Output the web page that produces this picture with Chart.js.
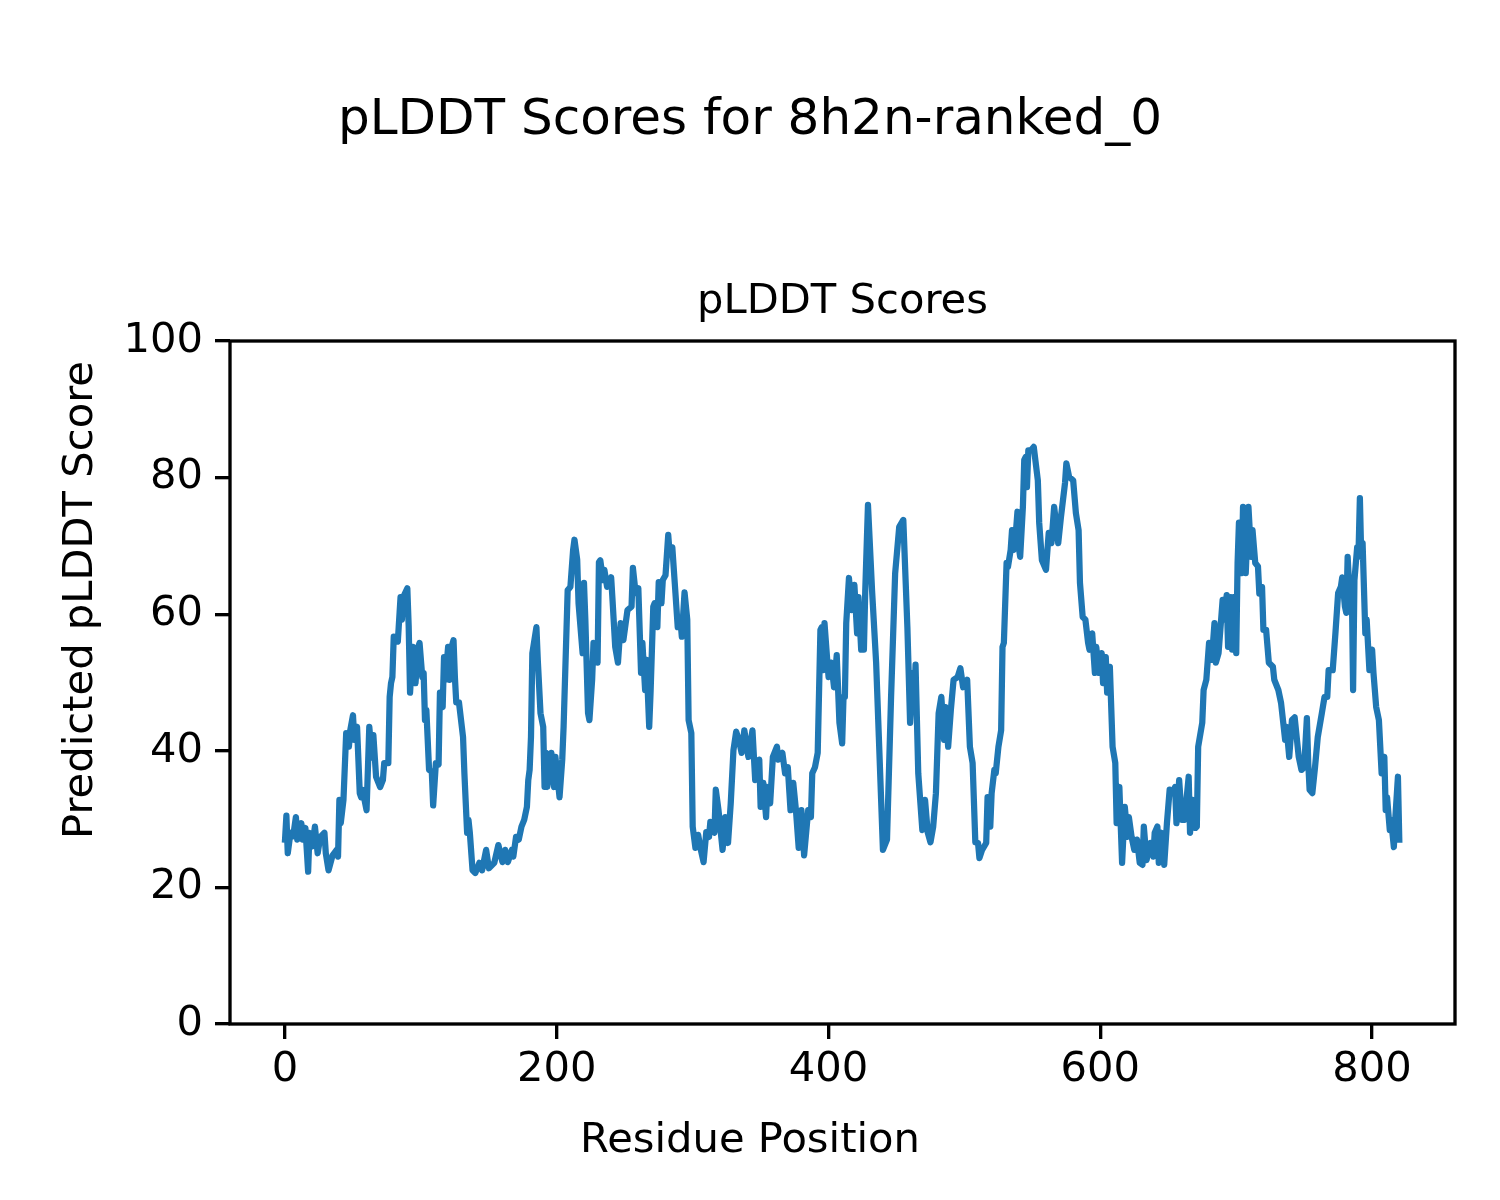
<!DOCTYPE html>
<html>
<head>
<meta charset="utf-8">
<script src="https://cdn.jsdelivr.net/npm/chart.js@4.4.1/dist/chart.umd.min.js"></script>
<style>
html,body{margin:0;padding:0;background:#fff;}
#wrap{width:1500px;height:1200px;}
canvas{display:block;}
</style>
</head>
<body>
<div id="wrap"><canvas id="c" width="1500" height="1200"></canvas></div>
<script>
const figureTitle = "pLDDT Scores for 8h2n-ranked_0";
const axesTitle = "pLDDT Scores";
const xLabel = "Residue Position";
const yLabel = "Predicted pLDDT Score";
const xTickValues = [0, 200, 400, 600, 800];
const yTickValues = [0, 20, 40, 60, 80, 100];

const residues = [0,1,2,4,6,8,9,12,13,15,17,18,20,22,24,26,29,30,32,35,38,39,40,41,43,45,47,48,50,51,53,55,56,57,60,62,64,65,67,70,72,73,76,77,78,79,80,83,85,86,87,90,91,92,94,96,98,99,101,102,103,104,106,108,109,111,113,114,116,117,118,120,121,122,124,125,126,128,131,132,134,135,136,138,140,143,145,148,150,154,157,160,162,164,167,168,170,172,174,176,178,179,180,181,182,185,186,188,190,191,192,193,196,198,199,202,204,205,208,210,212,213,215,216,219,220,221,223,224,226,227,230,231,232,234,235,237,240,241,243,245,247,249,252,255,256,258,260,262,263,265,266,268,269,271,272,274,275,277,278,280,282,283,285,287,289,291,292,294,296,297,299,300,302,304,306,308,310,312,313,316,317,319,322,324,326,328,330,332,334,336,338,341,344,346,349,350,352,354,355,357,359,362,363,366,368,370,372,374,376,378,380,382,385,387,388,390,392,394,395,396,397,399,400,402,404,406,408,410,411,412,413,415,417,419,421,422,424,426,427,429,432,435,437,440,443,446,449,452,455,458,460,462,463,464,466,469,471,473,475,477,479,481,483,485,486,488,490,492,495,497,499,502,504,506,508,510,511,513,516,517,519,520,522,523,525,527,528,529,531,532,534,535,536,537,539,540,541,543,544,545,546,547,549,551,554,555,557,560,562,564,566,568,569,571,574,575,577,580,582,584,585,587,589,591,592,594,596,597,599,601,602,604,605,607,609,611,612,614,616,618,620,621,623,625,627,629,631,632,634,637,639,640,642,643,645,647,649,651,653,655,656,658,660,662,665,666,668,670,671,672,675,676,678,680,682,684,685,687,690,691,693,694,696,697,698,700,701,702,704,705,707,709,711,712,714,716,717,719,720,722,724,727,728,731,733,736,737,739,741,743,746,748,750,752,753,754,756,758,760,763,765,767,768,771,773,775,777,778,780,781,782,784,785,786,787,789,790,791,792,793,795,796,798,800,801,803,805,807,809,810,811,813,814,816,817,819,820];

const plddt = [27,30.5,25,28,27.5,30.3,27,29.4,27,28.7,22.3,28,26,28.9,25,27.4,28,25,22.5,24.7,25.5,24.5,32.8,29.4,32.8,42.6,40.6,43,45.2,41.6,43.5,33.8,33.2,34.3,31.3,43.5,39,42.3,36.2,34.7,35.7,38.2,38.2,47.9,49.9,50.8,56.7,56,62.5,59.2,62.5,63.8,58.2,48.5,55.2,49.9,55.2,55.8,50.8,51.4,44.5,46,37.2,37,32,38.2,38,48.5,46.4,53.7,50.4,55.2,50.4,54.8,56.2,50.8,47.1,47.1,42,36.7,28,29.9,28,22.5,22.1,23.6,22.5,25.5,22.8,23.6,26.2,23.7,25.5,23.7,25.5,24.5,27.4,27,28.9,29.9,31.8,35.7,37.2,42,54.3,58.1,53.3,45.5,43.5,34.7,39.7,34.7,39.7,34.7,39.1,33.2,38.7,43.5,63.5,64,69.4,70.9,68,61.6,54.3,64.6,59.2,45.5,44.5,50.4,55.8,52.9,67.6,67.9,65,66.5,64,65.4,62.1,55.2,52.9,58.7,56.2,60.6,61.1,66.8,63.1,63.8,51.4,55.8,48.9,53.3,43.5,48.5,61.1,61.6,58.1,64.7,61.6,65,65.7,71.6,69,69.8,64,58.1,59.2,56.7,63.2,59.2,44.5,42.6,28.9,25.8,27.7,25.5,23.7,28.1,27.4,29.6,28,34.3,31.3,25.5,30.3,26.5,32.3,40.1,42.8,41.6,39.7,43,39.1,43,35.7,38.7,31.8,35.3,30.3,34.7,32.3,39.1,40.6,38.7,39.7,36.7,37.6,31.3,35.3,31.3,25.8,31.3,24.7,31.3,30.3,36.7,37.6,39.7,57.7,58.1,51.8,58.7,53.3,50.8,52.9,49.3,54,44.1,41.1,47.9,47.9,58.7,65.3,60.6,64.3,57.2,62.5,54.8,54.8,63.5,76,63.5,52.9,42,25.5,27,47.9,66,72.8,73.8,58.1,44.1,51.4,46.4,52.6,36.7,28.4,32.8,28,26.6,28.9,33.8,45.5,47.9,41.6,46.4,40.6,46,50.4,50.8,52.1,49.3,50.4,40.6,38.2,26.6,26.5,24.3,25.5,26.5,33.2,28.9,33.8,37.2,36.7,40.6,43,55.2,55.8,67.5,66.9,69.4,72.3,69.4,69.8,75,69.8,68.4,75.7,82.6,83,78.6,84,84,84.5,79.6,73.4,67.9,66.5,71.9,70.4,75.7,72.3,70.4,74.2,79.2,82.1,80.1,79.6,74.8,72.3,64.6,59.6,59.2,55.8,54.8,57.2,51.4,55.2,51.4,54.3,49.9,53.7,48.5,52.3,40.6,38.2,29.4,34.7,23.6,31.8,27.4,30.3,27.4,25.5,27,23.6,23.3,28.9,24,26.5,24.5,28,28.9,23.6,28,23.3,29.4,34.3,33.8,34.7,29.4,35.7,29.9,29.9,36.2,28,32.8,28.7,28.9,40.6,44.1,48.9,50.4,55.8,53.3,58.7,52.9,54.3,62.1,59.2,62.8,55.2,62.5,54.8,62.5,54.3,67.5,73.4,66,75.7,66,75.7,68.4,72.3,67.5,67,63,64,57.7,57.7,52.9,52.3,50.4,48.9,47,41.6,43.5,39.1,44.5,44.9,39.1,37.2,37.6,44.8,38.2,34.3,33.8,37.6,42,45.5,47.9,47.9,51.8,51.8,57.2,63.1,64,65.4,61.1,60.2,68.4,60.6,65,48.9,65,69.8,69,77,68.4,70.4,57.2,59.2,51.8,54.8,51.4,46.4,44.5,36.7,39.1,31.3,33.2,28.4,29.9,25.9,29.9,36.2,27];

const points = residues.map((r, i) => ({x: r, y: plddt[i]}));

const FONT = "DejaVu Sans";
const PX = 300 / 72;

const textPlugin = {
  id: 'mplText',
  afterDraw(chart) {
    const ctx = chart.ctx;
    const a = chart.chartArea;
    ctx.save();
    // frame (spines)
    ctx.strokeStyle = '#000';
    ctx.lineWidth = 0.8 * PX;
    ctx.strokeRect(a.left, a.top, a.right - a.left, a.bottom - a.top);
    ctx.fillStyle = '#000';
    // figure title
    ctx.font = `${12 * PX}px "${FONT}"`;
    ctx.textAlign = 'center';
    ctx.textBaseline = 'alphabetic';
    ctx.fillText(figureTitle, 750, 134);
    // axes title
    ctx.font = `${10 * PX}px "${FONT}"`;
    ctx.fillText(axesTitle, (a.left + a.right) / 2, 313);
    // x label
    ctx.fillText(xLabel, 750, 1152);
    // y label
    ctx.translate(92, 600);
    ctx.rotate(-Math.PI / 2);
    ctx.fillText(yLabel, 0, 0);
    ctx.restore();
  }
};

Chart.defaults.font.family = FONT;
Chart.defaults.color = '#000';

new Chart(document.getElementById('c'), {
  type: 'line',
  data: {
    datasets: [{
      data: points,
      borderColor: '#1f77b4',
      borderWidth: 1.5 * PX,
      borderJoinStyle: 'round',
      borderCapStyle: 'square',
      pointRadius: 0,
      tension: 0,
      fill: false
    }]
  },
  options: {
    responsive: false,
    animation: false,
    devicePixelRatio: 1,
    layout: { padding: { left: 0, top: 341, right: 45, bottom: 0 } },
    plugins: { legend: { display: false }, tooltip: { enabled: false }, title: { display: false } },
    scales: {
      x: {
        type: 'linear',
        min: -40.5,
        max: 861,
        afterBuildTicks(scale) { scale.ticks = xTickValues.map(v => ({ value: v })); },
        afterFit(scale) { scale.height = 176; },
        grid: { drawOnChartArea: false, drawTicks: true, tickLength: 15, tickWidth: 0.8 * PX, tickColor: '#000', lineWidth: 0.8 * PX, color: '#000' },
        border: { display: false },
        ticks: { font: { size: 10 * PX, family: FONT }, color: '#000', padding: 6, maxRotation: 0, autoSkip: false }
      },
      y: {
        type: 'linear',
        min: 0,
        max: 100,
        afterBuildTicks(scale) { scale.ticks = yTickValues.map(v => ({ value: v })); },
        afterFit(scale) { scale.width = 230; },
        grid: { drawOnChartArea: false, drawTicks: true, tickLength: 15, tickWidth: 0.8 * PX, tickColor: '#000', lineWidth: 0.8 * PX, color: '#000' },
        border: { display: false },
        ticks: { font: { size: 10 * PX, family: FONT }, color: '#000', padding: 12, autoSkip: false }
      }
    }
  },
  plugins: [textPlugin]
});
</script>
</body>
</html>
